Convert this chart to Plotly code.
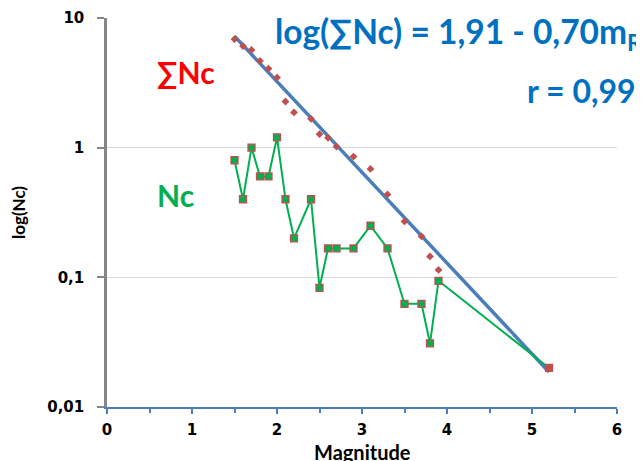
import plotly.graph_objects as go

# Magnitudes and per-magnitude counts (Nc)
mag = [1.5, 1.6, 1.7, 1.8, 1.9, 2.0, 2.1, 2.2, 2.4, 2.5, 2.6, 2.7, 2.9, 3.1, 3.3, 3.5, 3.7, 3.8, 3.9, 5.2]
nc = [0.8, 0.4, 1.0, 0.6, 0.6, 1.2, 0.4, 0.2, 0.4, 0.083, 0.167, 0.167, 0.167, 0.25, 0.167, 0.0625, 0.0625, 0.031, 0.094, 0.02]
# Cumulative counts (sum Nc)
sum_nc = [6.87, 6.07, 5.67, 4.67, 4.07, 3.47, 2.27, 1.87, 1.67, 1.27, 1.19, 1.02, 0.853, 0.686, 0.436, 0.27, 0.207, 0.145, 0.114, 0.02]
# Regression line log(sum Nc) = a - b*m
fit_a = 1.91
fit_b = 0.70
fit_m = [1.5, 5.2]
fit_y = [10 ** (fit_a - fit_b * m) for m in fit_m]

y_tickvals = [0.01, 0.1, 1, 10]
y_ticktext = ["0,01", "0,1", "1", "10"]
x_tickvals = [0, 1, 2, 3, 4, 5, 6]

RED = "#c0504d"
GREEN = "#00b050"
BLUE = "#4a7ebb"
TXTBLUE = "#0070c0"
FONT = "Lato, 'Open Sans', sans-serif"
TICKFONT = "'DejaVu Sans', Verdana, sans-serif"

# page offset of the figure (body margin) is 8px; plot area in page px: x 107..617, y 18..407
def px(x):
    return (x - 107) / 510

def py(y):
    return (407 - y) / 389

fig = go.Figure()

fig.add_trace(go.Scatter(
    x=fit_m, y=fit_y, mode="lines",
    line=dict(color=BLUE, width=3.5), showlegend=False, hoverinfo="skip"))

fig.add_trace(go.Scatter(
    x=mag, y=sum_nc, mode="markers",
    marker=dict(symbol="diamond", size=6, color=RED, line=dict(width=0)),
    showlegend=False))

nc_fill = [GREEN] * (len(nc) - 1) + [RED]
fig.add_trace(go.Scatter(
    x=mag, y=nc, mode="lines+markers",
    line=dict(color=GREEN, width=2),
    marker=dict(symbol="square", size=7, color=nc_fill, line=dict(color=RED, width=1.3)),
    showlegend=False))

fig.update_layout(
    width=636, height=453,
    margin=dict(l=99, r=27, t=10, b=54),
    paper_bgcolor="white", plot_bgcolor="white",
    font=dict(family=FONT, color="#000000"),
    separators=",.",
    xaxis=dict(
        range=[0, 6], tickvals=x_tickvals, showgrid=False, zeroline=False,
        automargin=False,
        showline=True, linecolor=BLUE, linewidth=2,
        ticks="outside", ticklen=5, tickcolor=BLUE, tickwidth=2,
        minor=dict(dtick=0.5, ticks="outside", ticklen=4, tickcolor=BLUE, tickwidth=2),
        tickfont=dict(size=15, family=TICKFONT, color="#000000", weight="bold"),
        ticklabelstandoff=3,
    ),
    yaxis=dict(
        type="log", range=[-2, 1], tickvals=y_tickvals, ticktext=y_ticktext,
        automargin=False,
        showgrid=True, gridcolor="#d9d9d9", gridwidth=1, zeroline=False,
        showline=True, linecolor="#868686", linewidth=2.5,
        ticks="outside", ticklen=7, tickcolor="#868686", tickwidth=1.5,
        tickfont=dict(size=15, family=TICKFONT, color="#000000", weight="bold"),
        ticklabelstandoff=10,
        title=dict(text="<b>log(Nc)</b>", font=dict(size=17, family=FONT), standoff=26),
    ),
    annotations=[
        dict(text="<b>Magnitude</b>", xref="paper", yref="paper",
             x=0.5, y=py(452), xanchor="center", yanchor="middle",
             showarrow=False, font=dict(size=20, color="#000000", family=FONT)),
        dict(text="<b>log(∑Nc) = 1,91 - 0,70m<sub>R</sub></b>", xref="paper", yref="paper",
             x=px(273), y=py(34), xanchor="left", yanchor="middle",
             showarrow=False, font=dict(size=33.5, color=TXTBLUE, family=FONT)),
        dict(text="<b>r = 0,99</b>", xref="paper", yref="paper",
             x=px(638), y=py(91), xanchor="right", yanchor="middle",
             showarrow=False, font=dict(size=32, color=TXTBLUE, family=FONT)),
        dict(text="<b>∑Nc</b>", xref="paper", yref="paper",
             x=px(155), y=py(72), xanchor="left", yanchor="middle",
             showarrow=False, font=dict(size=30, color="#ff0000", family=FONT)),
        dict(text="<b>Nc</b>", xref="paper", yref="paper",
             x=px(155), y=py(195), xanchor="left", yanchor="middle",
             showarrow=False, font=dict(size=30, color=GREEN, family=FONT)),
    ],
)

fig.write_html("out.html")
